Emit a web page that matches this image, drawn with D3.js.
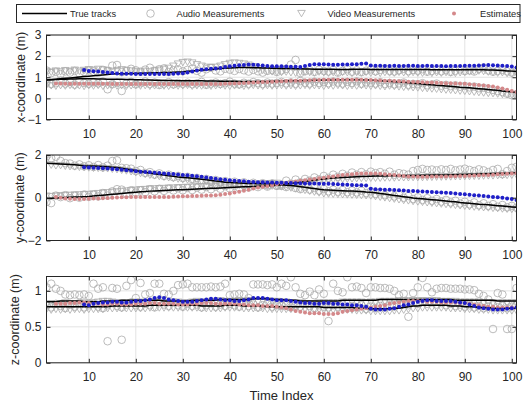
<!DOCTYPE html>
<html>
<head>
<meta charset="utf-8">
<script src="https://cdn.jsdelivr.net/npm/d3@7"></script>
<style>
  body { margin: 0; background: #fff; }
  text { font-family: "Liberation Sans", Arial, Helvetica, sans-serif; fill: #262626; }
</style>
</head>
<body>
<div class="chart"></div>
<script>
// Time index 1..101
var timeIndex = d3.range(1, 102);
var xTickValues = [10, 20, 30, 40, 50, 60, 70, 80, 90, 100];

// ---------- x-coordinate ----------
var xTrueA = [0.87,0.89,0.91,0.93,0.95,0.97,0.99,1.01,1.03,1.05,
  1.07,1.09,1.11,1.13,1.15,1.16,1.17,1.17,1.18,1.18,
  1.19,1.19,1.2,1.21,1.21,1.22,1.23,1.24,1.25,1.26,
  1.28,1.3,1.32,1.33,1.35,1.37,1.39,1.41,1.43,1.44,
  1.45,1.46,1.46,1.46,1.45,1.45,1.44,1.44,1.43,1.43,
  1.42,1.42,1.41,1.4,1.4,1.39,1.39,1.38,1.38,1.38,
  1.38,1.38,1.37,1.37,1.37,1.38,1.38,1.38,1.38,1.37,
  1.37,1.37,1.37,1.37,1.37,1.37,1.37,1.37,1.37,1.37,
  1.37,1.37,1.36,1.36,1.36,1.36,1.36,1.36,1.36,1.35,
  1.35,1.35,1.35,1.35,1.34,1.34,1.33,1.32,1.3,1.29,1.27];
var xTrueB = [0.87,0.88,0.89,0.9,0.91,0.92,0.92,0.93,0.93,0.93,
  0.93,0.92,0.92,0.91,0.91,0.9,0.9,0.89,0.89,0.88,
  0.88,0.87,0.87,0.86,0.86,0.85,0.85,0.85,0.84,0.84,
  0.84,0.83,0.83,0.83,0.82,0.82,0.82,0.81,0.81,0.81,
  0.81,0.8,0.8,0.8,0.8,0.8,0.8,0.8,0.81,0.81,
  0.82,0.82,0.83,0.83,0.84,0.85,0.85,0.86,0.86,0.87,
  0.87,0.87,0.88,0.88,0.88,0.88,0.88,0.88,0.87,0.87,
  0.85,0.84,0.82,0.81,0.79,0.77,0.76,0.74,0.72,0.7,
  0.68,0.66,0.64,0.62,0.61,0.59,0.57,0.55,0.53,0.52,
  0.5,0.48,0.46,0.44,0.42,0.4,0.38,0.35,0.33,0.31,0.28];
var xAudioA = [1.32,1.2,1.26,1.15,1.28,1.22,1.3,1.18,1.25,1.33,
  1.27,1.21,1.35,1.3,1.55,1.58,1.24,1.29,1.4,1.33,
  1.26,1.36,1.45,1.3,1.38,1.42,1.25,1.33,1.37,1.28,
  1.35,1.41,1.3,1.22,1.38,1.45,1.32,1.28,1.4,1.36,
  1.3,1.39,1.33,1.27,1.35,1.28,1.22,1.3,1.34,1.25,
  1.32,1.4,1.6,1.82,1.2,1.28,1.33,1.25,1.36,1.3,
  1.27,1.35,1.22,1.3,1.38,1.26,1.33,1.24,1.31,1.37,
  1.28,1.35,1.42,1.3,1.27,1.33,1.4,1.29,1.35,1.31,
  1.38,1.26,1.3,1.36,1.28,1.34,1.25,1.31,1.37,1.29,
  1.33,1.27,1.4,1.46,1.32,1.26,1.3,1.35,1.28,1.22,1.3];
var xAudioB = [0.75,0.68,0.72,0.85,0.7,0.78,0.65,0.82,0.73,0.69,
  0.76,0.71,0.8,0.43,0.67,0.74,0.35,0.7,0.78,0.66,
  0.72,0.8,0.68,0.75,0.63,0.7,0.77,0.66,0.73,0.69,
  0.74,0.67,0.71,0.78,0.64,0.7,0.75,0.68,0.72,0.79,
  0.7,0.66,0.74,0.69,0.77,0.72,0.68,0.75,0.7,0.73,
  0.78,0.71,0.76,0.69,0.82,0.74,0.7,0.79,0.73,0.77,
  0.72,0.8,0.75,0.7,0.78,0.73,0.81,0.69,0.76,0.74,
  0.7,0.77,0.68,0.73,0.66,0.71,0.75,0.64,0.69,0.67,
  0.72,0.62,0.66,0.7,0.6,0.64,0.58,0.62,0.55,0.59,
  0.52,0.56,0.48,0.5,0.45,0.4,0.35,0.3,0.22,0.15,0.2];
var xVideoA = [1.3,1.26,1.32,1.28,1.34,1.3,1.36,1.31,1.35,1.38,
  1.36,1.4,1.37,1.33,1.3,1.34,1.38,1.35,1.32,1.3,
  1.27,1.31,1.28,1.33,1.36,1.4,1.45,1.55,1.65,1.72,
  1.74,1.7,1.62,1.55,1.5,1.48,1.5,1.55,1.62,1.68,
  1.7,1.68,1.65,1.6,1.52,1.42,1.35,1.3,1.28,1.26,
  1.25,1.27,1.24,1.22,1.26,1.28,1.25,1.23,1.27,1.24,
  1.22,1.25,1.23,1.26,1.24,1.21,1.25,1.23,1.26,1.22,
  1.24,1.21,1.25,1.23,1.22,1.26,1.24,1.21,1.25,1.23,
  1.22,1.25,1.21,1.24,1.22,1.25,1.23,1.21,1.24,1.26,
  1.28,1.3,1.32,1.3,1.27,1.25,1.22,1.24,1.2,1.18,1.22];
var xVideoB = [0.65,0.62,0.6,0.63,0.61,0.64,0.6,0.62,0.59,0.63,
  0.61,0.64,0.6,0.62,0.65,0.61,0.63,0.6,0.62,0.64,
  0.61,0.63,0.6,0.62,0.64,0.61,0.6,0.63,0.61,0.62,
  0.64,0.6,0.62,0.61,0.63,0.6,0.62,0.64,0.61,0.6,
  0.62,0.63,0.6,0.61,0.64,0.62,0.6,0.63,0.61,0.62,
  0.64,0.61,0.63,0.6,0.62,0.64,0.61,0.63,0.62,0.6,
  0.63,0.61,0.64,0.62,0.6,0.63,0.61,0.64,0.62,0.6,
  0.62,0.6,0.58,0.61,0.59,0.57,0.55,0.56,0.53,0.52,
  0.5,0.49,0.47,0.46,0.44,0.42,0.41,0.39,0.37,0.36,
  0.34,0.32,0.3,0.28,0.26,0.25,0.23,0.21,0.2,0.18,0.17];
var xEstA = [null,null,null,null,null,null,null,null,1.34,1.3,
  1.28,1.27,1.25,1.23,1.2,1.18,1.17,1.16,1.16,1.15,
  1.15,1.15,1.15,1.15,1.15,1.15,1.15,1.16,1.18,1.19,
  1.22,1.27,1.32,1.36,1.38,1.4,1.42,1.44,1.48,1.52,
  1.55,1.57,1.58,1.6,1.59,1.58,1.56,1.53,1.52,1.52,
  1.52,1.51,1.5,1.5,1.48,1.53,1.58,1.61,1.62,1.61,
  1.6,1.59,1.59,1.6,1.6,1.61,1.62,1.64,1.65,1.56,
  1.54,1.54,1.53,1.53,1.54,1.53,1.53,1.54,1.54,1.53,
  1.53,1.54,1.53,1.53,1.53,1.52,1.53,1.53,1.53,1.54,
  1.54,1.55,1.56,1.57,1.58,1.57,1.56,1.55,1.53,1.51,1.46];
var xEstB = [null,null,0.7,0.7,0.69,0.69,0.69,0.69,0.69,0.69,
  0.69,0.69,0.69,0.69,0.68,0.68,0.68,0.68,0.68,0.68,
  0.68,0.68,0.68,0.68,0.68,0.68,0.68,0.68,0.68,0.68,
  0.68,0.68,0.68,0.68,0.68,0.68,0.68,0.68,0.69,0.7,
  0.71,0.72,0.73,0.74,0.75,0.76,0.77,0.78,0.79,0.8,
  0.81,0.82,0.83,0.84,0.84,0.85,0.86,0.87,0.87,0.88,
  0.88,0.88,0.88,0.88,0.88,0.88,0.88,0.88,0.87,0.87,
  0.86,0.85,0.84,0.83,0.82,0.81,0.8,0.79,0.78,0.77,
  0.76,0.75,0.75,0.74,0.73,0.72,0.72,0.71,0.7,0.69,
  0.67,0.65,0.63,0.61,0.59,0.56,0.52,0.47,0.41,0.35,0.3];

// ---------- y-coordinate ----------
var yTrueA = [1.61,1.6,1.59,1.58,1.57,1.55,1.54,1.52,1.5,1.49,
  1.48,1.47,1.46,1.45,1.43,1.41,1.38,1.35,1.31,1.27,
  1.23,1.19,1.15,1.12,1.09,1.06,1.03,1.0,0.97,0.95,
  0.93,0.91,0.89,0.86,0.84,0.81,0.78,0.76,0.73,0.71,
  0.7,0.69,0.68,0.67,0.67,0.66,0.65,0.64,0.64,0.63,
  0.61,0.59,0.57,0.55,0.52,0.49,0.46,0.43,0.4,0.37,
  0.36,0.35,0.34,0.33,0.32,0.31,0.3,0.29,0.27,0.26,
  0.23,0.2,0.17,0.14,0.11,0.08,0.05,0.02,-0.01,-0.03,
  -0.05,-0.07,-0.09,-0.11,-0.13,-0.15,-0.17,-0.19,-0.22,-0.24,
  -0.26,-0.28,-0.3,-0.31,-0.33,-0.35,-0.37,-0.39,-0.41,-0.43,-0.45];
var yTrueB = [-0.03,-0.02,-0.01,0,0.01,0.02,0.03,0.04,0.05,0.06,
  0.08,0.1,0.12,0.14,0.16,0.18,0.2,0.22,0.24,0.26,
  0.28,0.29,0.31,0.32,0.33,0.34,0.35,0.36,0.37,0.38,
  0.39,0.4,0.41,0.42,0.43,0.44,0.45,0.46,0.47,0.48,
  0.49,0.5,0.51,0.52,0.53,0.54,0.55,0.56,0.57,0.59,
  0.61,0.64,0.67,0.7,0.73,0.76,0.79,0.82,0.85,0.88,
  0.9,0.92,0.94,0.95,0.96,0.97,0.98,0.99,1.0,1.01,
  1.02,1.02,1.02,1.03,1.03,1.03,1.03,1.04,1.04,1.04,
  1.05,1.05,1.06,1.06,1.07,1.07,1.08,1.08,1.09,1.09,
  1.1,1.1,1.11,1.12,1.12,1.13,1.14,1.15,1.15,1.16,1.17];
var yAudioA = [1.95,1.85,1.92,1.72,1.62,1.6,1.5,1.56,1.47,1.52,
  1.44,1.53,1.42,1.5,1.72,1.75,1.4,1.38,1.36,1.25,
  1.3,1.16,1.2,1.08,1.14,1.02,1.08,0.96,1.02,0.92,
  0.98,0.87,0.93,0.82,0.88,0.77,0.83,0.72,0.78,0.68,
  0.75,0.66,0.72,0.63,0.7,0.6,0.68,0.58,0.66,0.56,
  0.62,0.5,0.58,0.45,0.4,0.52,0.38,0.46,0.33,0.41,
  0.3,0.38,0.28,0.36,0.26,0.34,0.25,0.33,0.22,0.3,
  0.18,0.26,0.12,0.2,0.06,0.14,0.0,0.08,-0.06,0.02,
  -0.1,-0.02,-0.14,-0.06,-0.18,-0.1,-0.22,-0.14,-0.27,-0.19,
  -0.31,-0.22,-0.35,-0.26,-0.38,-0.3,-0.42,-0.34,-0.45,-0.38,-0.47];
var yAudioB = [-0.2,-0.25,0.1,0.03,0.12,-0.02,0.1,0.0,0.15,0.04,
  0.15,0.06,0.22,0.1,0.3,0.4,0.38,0.2,0.35,0.24,
  0.35,0.26,0.4,0.3,0.42,0.32,0.43,0.34,0.44,0.35,
  0.46,0.36,0.47,0.38,0.5,0.4,0.52,0.42,0.54,0.44,
  0.56,0.46,0.58,0.48,0.6,0.5,0.62,0.52,0.66,0.56,
  0.55,0.8,0.66,0.85,0.72,0.88,0.8,0.95,0.86,1.02,
  0.93,1.08,0.98,1.12,1.03,1.18,1.08,1.2,1.1,1.22,
  1.15,1.2,1.12,1.22,1.08,1.15,1.12,1.08,1.25,1.3,
  1.35,1.3,1.32,1.28,1.33,1.3,1.35,1.28,1.32,1.36,
  1.3,1.25,1.33,1.28,1.2,1.3,1.35,1.1,1.25,1.4,1.45];
var yVideoA = [1.78,1.55,1.52,1.53,1.5,1.48,1.47,1.45,1.44,1.42,
  1.41,1.4,1.39,1.38,1.36,1.34,1.31,1.28,1.24,1.2,
  1.16,1.12,1.08,1.05,1.02,0.99,0.96,0.93,0.9,0.88,
  0.86,0.84,0.82,0.8,0.77,0.74,0.71,0.69,0.66,0.64,
  0.63,0.62,0.61,0.6,0.6,0.59,0.58,0.57,0.57,0.56,
  0.54,0.51,0.48,0.45,0.41,0.37,0.33,0.29,0.25,0.21,
  0.2,0.19,0.18,0.17,0.16,0.15,0.14,0.13,0.12,0.11,
  0.08,0.05,0.02,-0.01,-0.04,-0.07,-0.1,-0.12,-0.15,-0.17,
  -0.19,-0.21,-0.23,-0.25,-0.27,-0.29,-0.31,-0.33,-0.35,-0.37,
  -0.39,-0.41,-0.42,-0.44,-0.45,-0.47,-0.48,-0.5,-0.51,-0.52,-0.53];
var yVideoB = [0.1,0.08,0.1,0.12,0.13,0.14,0.15,0.16,0.17,0.18,
  0.2,0.22,0.24,0.26,0.28,0.3,0.32,0.34,0.36,0.38,
  0.4,0.41,0.43,0.44,0.45,0.46,0.47,0.48,0.49,0.5,
  0.51,0.52,0.53,0.54,0.55,0.56,0.57,0.58,0.59,0.6,
  0.61,0.62,0.63,0.64,0.65,0.66,0.67,0.68,0.69,0.7,
  0.62,0.63,0.65,0.67,0.7,0.72,0.75,0.78,0.8,0.83,
  0.85,0.87,0.88,0.89,0.9,0.91,0.92,0.93,0.93,0.94,
  0.94,0.94,0.95,0.95,0.95,0.96,0.96,0.96,0.97,0.97,
  0.97,0.98,0.98,0.99,0.99,1.0,1.0,1.01,1.01,1.02,
  1.02,1.03,1.03,1.04,1.05,1.05,1.06,1.07,1.07,1.08,1.09];
var yEstA = [null,null,null,null,null,null,null,null,1.43,1.42,
  1.4,1.39,1.38,1.37,1.35,1.33,1.31,1.29,1.27,1.24,
  1.22,1.2,1.19,1.17,1.16,1.14,1.12,1.11,1.09,1.07,
  1.05,1.03,1.01,0.98,0.95,0.92,0.89,0.86,0.84,0.82,
  0.8,0.78,0.77,0.75,0.74,0.73,0.72,0.71,0.71,0.7,
  0.7,0.69,0.69,0.68,0.68,0.67,0.67,0.67,0.66,0.66,
  0.65,0.64,0.63,0.62,0.61,0.6,0.59,0.58,0.57,0.42,
  0.4,0.39,0.38,0.37,0.36,0.35,0.34,0.32,0.31,0.3,
  0.29,0.28,0.27,0.26,0.25,0.23,0.22,0.2,0.18,0.16,
  0.14,0.12,0.1,0.08,0.06,0.04,0.02,0.0,-0.03,-0.06,-0.1];
var yEstB = [null,null,0.03,0.0,-0.03,-0.05,-0.06,-0.06,-0.06,-0.05,
  -0.04,-0.03,-0.02,-0.01,0.0,0.01,0.02,0.02,0.03,0.03,
  0.03,0.03,0.03,0.03,0.03,0.03,0.04,0.05,0.06,0.07,
  0.07,0.08,0.08,0.09,0.1,0.1,0.12,0.14,0.17,0.2,
  0.24,0.28,0.33,0.38,0.43,0.48,0.52,0.55,0.59,0.63,
  0.67,0.7,0.73,0.76,0.79,0.82,0.85,0.88,0.91,0.94,
  0.97,1.0,1.03,1.06,1.08,1.1,1.12,1.13,1.14,1.14,
  1.13,1.12,1.1,1.08,1.06,1.04,1.02,1.0,0.99,0.98,
  0.98,0.98,0.99,0.99,1.0,1.0,1.01,1.01,1.02,1.02,
  1.03,1.04,1.05,1.06,1.07,1.08,1.1,1.11,1.12,1.14,1.15];

// ---------- z-coordinate ----------
var zTrueA = [0.85,0.85,0.85,0.86,0.86,0.86,0.86,0.86,0.85,0.85,
  0.85,0.85,0.86,0.86,0.86,0.86,0.87,0.87,0.87,0.87,
  0.87,0.87,0.87,0.87,0.87,0.86,0.86,0.86,0.86,0.86,
  0.86,0.87,0.87,0.87,0.87,0.87,0.87,0.88,0.88,0.88,
  0.88,0.88,0.88,0.88,0.89,0.89,0.89,0.89,0.88,0.88,
  0.88,0.87,0.87,0.87,0.86,0.86,0.86,0.86,0.86,0.86,
  0.86,0.86,0.86,0.87,0.87,0.87,0.87,0.87,0.87,0.87,
  0.87,0.88,0.88,0.88,0.88,0.88,0.88,0.88,0.88,0.88,
  0.88,0.88,0.88,0.88,0.88,0.88,0.88,0.87,0.87,0.87,
  0.87,0.87,0.87,0.87,0.87,0.87,0.86,0.86,0.86,0.86,0.86];
var zTrueB = [0.78,0.78,0.78,0.78,0.78,0.78,0.78,0.78,0.78,0.78,
  0.78,0.78,0.78,0.78,0.79,0.79,0.79,0.79,0.79,0.79,
  0.79,0.79,0.8,0.8,0.8,0.8,0.8,0.8,0.8,0.8,
  0.8,0.8,0.8,0.79,0.79,0.79,0.79,0.79,0.8,0.8,
  0.8,0.8,0.79,0.79,0.79,0.79,0.79,0.78,0.78,0.78,
  0.78,0.78,0.78,0.78,0.78,0.78,0.78,0.78,0.78,0.77,
  0.77,0.77,0.77,0.77,0.77,0.77,0.76,0.76,0.76,0.75,
  0.75,0.75,0.75,0.75,0.76,0.76,0.77,0.78,0.79,0.79,
  0.8,0.8,0.8,0.8,0.8,0.8,0.79,0.79,0.79,0.78,
  0.78,0.78,0.77,0.77,0.77,0.76,0.76,0.76,0.76,0.76,0.76];
var zAudioA = [1.05,1.1,1.03,1.0,0.95,0.94,0.95,0.94,0.95,0.93,
  1.1,1.03,1.05,0.3,1.04,1.03,0.32,1.07,1.15,0.9,
  1.11,0.95,0.97,1.1,1.1,0.96,0.95,1.0,1.08,1.09,
  1.1,1.05,1.05,1.05,1.05,1.06,1.05,1.06,1.1,0.94,
  0.95,0.96,0.95,0.9,1.09,1.09,1.09,1.08,1.09,1.05,
  1.1,1.07,1.19,1.05,0.96,0.94,0.99,0.94,1.02,0.96,
  0.58,1.1,1.0,0.98,1.19,1.05,1.06,1.04,0.97,1.05,
  1.05,1.04,1.04,1.03,1.0,0.94,0.96,0.64,0.97,1.05,
  1.18,1.05,0.98,1.03,1.04,1.04,1.03,1.03,1.03,1.02,
  1.02,1.01,0.96,0.93,0.88,0.47,0.97,0.95,0.47,0.47,1.04];
var zAudioB = [0.8,0.77,0.82,0.79,0.76,0.81,0.78,0.83,0.77,0.8,
  0.82,0.78,0.76,0.8,0.83,0.79,0.77,0.81,0.84,0.8,
  0.78,0.82,0.8,0.77,0.83,0.81,0.79,0.84,0.8,0.78,
  0.82,0.79,0.81,0.77,0.8,0.83,0.78,0.81,0.79,0.82,
  0.8,0.78,0.83,0.79,0.81,0.77,0.8,0.82,0.78,0.8,
  0.79,0.81,0.77,0.8,0.78,0.82,0.79,0.76,0.8,0.78,
  0.77,0.8,0.78,0.81,0.76,0.79,0.77,0.8,0.75,0.78,
  0.76,0.79,0.77,0.8,0.78,0.81,0.83,0.8,0.84,0.82,
  0.85,0.82,0.84,0.81,0.83,0.8,0.82,0.79,0.81,0.78,
  0.8,0.77,0.79,0.76,0.78,0.8,0.77,0.79,0.76,0.78,0.8];
var zVideoA = [0.82,0.83,0.82,0.83,0.84,0.83,0.82,0.83,0.84,0.83,
  0.84,0.85,0.86,0.86,0.85,0.84,0.84,0.83,0.84,0.85,
  0.85,0.84,0.85,0.86,0.85,0.84,0.84,0.85,0.85,0.84,
  0.84,0.85,0.86,0.85,0.85,0.86,0.86,0.87,0.86,0.86,
  0.86,0.87,0.86,0.87,0.87,0.86,0.87,0.87,0.86,0.86,
  0.85,0.85,0.84,0.84,0.84,0.83,0.83,0.83,0.84,0.84,
  0.84,0.84,0.84,0.85,0.85,0.85,0.85,0.85,0.84,0.85,
  0.85,0.86,0.86,0.86,0.86,0.87,0.87,0.87,0.87,0.87,
  0.87,0.87,0.87,0.87,0.86,0.86,0.86,0.86,0.85,0.85,
  0.85,0.85,0.85,0.84,0.84,0.84,0.84,0.84,0.84,0.84,0.84];
var zVideoB = [0.75,0.74,0.75,0.74,0.75,0.74,0.75,0.75,0.74,0.75,
  0.75,0.75,0.75,0.76,0.76,0.76,0.76,0.76,0.76,0.76,
  0.76,0.76,0.77,0.77,0.77,0.77,0.77,0.77,0.77,0.77,
  0.77,0.77,0.77,0.76,0.76,0.76,0.76,0.76,0.77,0.77,
  0.77,0.77,0.76,0.76,0.76,0.76,0.76,0.75,0.75,0.75,
  0.75,0.75,0.75,0.75,0.75,0.75,0.75,0.75,0.75,0.74,
  0.74,0.74,0.74,0.74,0.74,0.74,0.73,0.73,0.73,0.72,
  0.72,0.72,0.72,0.72,0.73,0.73,0.74,0.75,0.76,0.76,
  0.77,0.77,0.77,0.77,0.77,0.77,0.76,0.76,0.76,0.75,
  0.75,0.75,0.74,0.74,0.74,0.73,0.73,0.73,0.73,0.73,0.73];
var zEstA = [null,null,null,null,null,null,null,null,0.81,0.8,
  0.82,0.83,0.84,0.84,0.85,0.85,0.84,0.84,0.85,0.86,
  0.86,0.87,0.88,0.9,0.91,0.9,0.88,0.87,0.86,0.85,
  0.85,0.85,0.86,0.87,0.88,0.89,0.89,0.88,0.87,0.87,
  0.86,0.86,0.87,0.88,0.9,0.9,0.9,0.89,0.88,0.87,
  0.87,0.87,0.86,0.85,0.84,0.83,0.83,0.82,0.82,0.83,
  0.83,0.82,0.82,0.81,0.81,0.8,0.8,0.79,0.78,0.75,
  0.74,0.74,0.74,0.75,0.76,0.78,0.8,0.81,0.83,0.85,
  0.86,0.87,0.87,0.86,0.86,0.86,0.86,0.85,0.84,0.83,
  0.81,0.79,0.77,0.76,0.75,0.74,0.74,0.74,0.75,0.76,0.77];
var zEstB = [null,null,0.82,0.82,0.82,0.83,0.83,0.84,0.84,0.83,
  0.82,0.82,0.81,0.81,0.82,0.82,0.81,0.81,0.81,0.82,
  0.82,0.82,0.83,0.83,0.82,0.82,0.82,0.82,0.81,0.81,
  0.81,0.82,0.82,0.83,0.83,0.83,0.82,0.82,0.82,0.82,
  0.82,0.81,0.81,0.8,0.8,0.8,0.79,0.79,0.79,0.78,
  0.77,0.76,0.74,0.72,0.71,0.7,0.69,0.69,0.69,0.68,
  0.68,0.68,0.69,0.71,0.72,0.73,0.74,0.75,0.76,0.77,
  0.78,0.79,0.8,0.82,0.83,0.84,0.85,0.86,0.86,0.86,
  0.86,0.85,0.85,0.85,0.84,0.84,0.84,0.84,0.83,0.83,
  0.82,0.81,0.8,0.79,0.78,0.78,0.77,0.77,0.77,0.77,0.77];

// ---------- layout ----------
var svgWidth = 523;
var svgHeight = 406;
var margin = { left: 46.5, right: 6.5 };
var width = svgWidth - margin.left - margin.right;

var axisColor = "#262626";
var markerGray = "#ababab";
var estBlue = "#1f1fc8";
var estPink = "#d4888a";

var panels = [
  { top: 35, height: 84.5, domain: [-1, 3], yTicks: [-1, 0, 1, 2, 3], label: "x-coordinate (m)", labelX: -21.5,
    trueA: xTrueA, trueB: xTrueB, audioA: xAudioA, audioB: xAudioB, videoA: xVideoA, videoB: xVideoB, estA: xEstA, estB: xEstB },
  { top: 155, height: 85.5, domain: [-2, 2], yTicks: [-2, 0, 2], label: "y-coordinate (m)", labelX: -22.5,
    trueA: yTrueA, trueB: yTrueB, audioA: yAudioA, audioB: yAudioB, videoA: yVideoA, videoB: yVideoB, estA: yEstA, estB: yEstB },
  { top: 276.5, height: 86.3, domain: [0, 1.2], yTicks: [0, 0.5, 1], label: "z-coordinate (m)", labelX: -28,
    trueA: zTrueA, trueB: zTrueB, audioA: zAudioA, audioB: zAudioB, videoA: zVideoA, videoB: zVideoB, estA: zEstA, estB: zEstB }
];

var svg = d3.select(".chart")
  .append("svg")
  .attr("width", svgWidth)
  .attr("height", svgHeight);

var xScale = d3.scaleLinear().domain([1, 101]).range([0, width]);

// down-pointing triangle marker
var triPath = "M-3.8,-2.6L3.8,-2.6L0,3.8Z";

panels.forEach(function(p, pi) {
  var g = svg.append("g").attr("transform", `translate(${margin.left}, ${p.top})`);
  var yScale = d3.scaleLinear().domain(p.domain).range([p.height, 0]);

  // grid
  g.append("g").selectAll("line.gx").data(xTickValues).enter().append("line")
    .attr("x1", d => xScale(d)).attr("x2", d => xScale(d))
    .attr("y1", 0).attr("y2", p.height)
    .attr("stroke", "#e3e3e3").attr("stroke-width", 1);
  g.append("g").selectAll("line.gy").data(p.yTicks).enter().append("line")
    .attr("x1", 0).attr("x2", width)
    .attr("y1", d => yScale(d)).attr("y2", d => yScale(d))
    .attr("stroke", "#e3e3e3").attr("stroke-width", 1);

  // clip
  var clipId = "clip" + pi;
  g.append("clipPath").attr("id", clipId).append("rect")
    .attr("x", 0).attr("y", 0).attr("width", width).attr("height", p.height);
  var plot = g.append("g").attr("clip-path", `url(#${clipId})`);

  // audio measurements (open circles)
  [p.audioA, p.audioB].forEach(function(series) {
    plot.append("g").selectAll("circle").data(series).enter().append("circle")
      .attr("cx", (d, i) => xScale(timeIndex[i]))
      .attr("cy", d => yScale(d))
      .attr("r", 3.8)
      .attr("fill", "none")
      .attr("stroke", markerGray)
      .attr("stroke-width", 0.8);
  });

  // video measurements (open down triangles)
  [p.videoA, p.videoB].forEach(function(series) {
    plot.append("g").selectAll("path").data(series).enter().append("path")
      .attr("d", triPath)
      .attr("transform", (d, i) => `translate(${xScale(timeIndex[i])}, ${yScale(d)})`)
      .attr("fill", "none")
      .attr("stroke", markerGray)
      .attr("stroke-width", 0.8);
  });

  // true tracks
  var line = d3.line()
    .x((d, i) => xScale(timeIndex[i]))
    .y(d => yScale(d));
  [p.trueA, p.trueB].forEach(function(series) {
    plot.append("path").datum(series)
      .attr("d", line)
      .attr("fill", "none")
      .attr("stroke", "#000")
      .attr("stroke-width", 1.5);
  });

  // estimates
  [[p.estB, estPink], [p.estA, estBlue]].forEach(function(s) {
    var pts = s[0].map((v, i) => ({ t: timeIndex[i], v: v })).filter(d => d.v !== null);
    plot.append("g").selectAll("circle").data(pts).enter().append("circle")
      .attr("cx", d => xScale(d.t))
      .attr("cy", d => yScale(d.v))
      .attr("r", 2)
      .attr("fill", s[1]);
  });

  // axes
  var fmt = d3.format("");
  var bottomAxis = d3.axisBottom(xScale).tickValues(xTickValues).tickSizeInner(-4).tickSizeOuter(0).tickPadding(10);
  var topAxis = d3.axisTop(xScale).tickValues(xTickValues).tickSizeInner(-4).tickSizeOuter(0).tickFormat("");
  var leftAxis = d3.axisLeft(yScale).tickValues(p.yTicks).tickSizeInner(-4).tickSizeOuter(0).tickPadding(5).tickFormat(fmt);
  var rightAxis = d3.axisRight(yScale).tickValues(p.yTicks).tickSizeInner(-4).tickSizeOuter(0).tickFormat("");

  [
    g.append("g").attr("transform", `translate(0, ${p.height})`).call(bottomAxis),
    g.append("g").call(topAxis),
    g.append("g").call(leftAxis),
    g.append("g").attr("transform", `translate(${width}, 0)`).call(rightAxis)
  ].forEach(function(a) {
    a.select(".domain").remove();
    a.selectAll("line").attr("stroke", axisColor);
    a.selectAll("text").attr("font-size", 12).attr("fill", axisColor)
      .style("font-family", "'Liberation Sans', Arial, sans-serif");
  });

  // box
  g.append("rect")
    .attr("x", 0).attr("y", 0).attr("width", width).attr("height", p.height)
    .attr("fill", "none").attr("stroke", axisColor).attr("stroke-width", 1);

  // y label
  g.append("text")
    .attr("transform", `translate(${p.labelX}, ${p.height / 2}) rotate(-90)`)
    .attr("text-anchor", "middle")
    .attr("font-size", 12.5)
    .text(p.label);
});

// x axis title
svg.append("text")
  .attr("x", margin.left + width / 2)
  .attr("y", 400)
  .attr("text-anchor", "middle")
  .attr("font-size", 13)
  .text("Time Index");

// legend
var legend = svg.append("g");
legend.append("rect")
  .attr("x", 16.5).attr("y", 4.5).attr("width", 503.5).attr("height", 18)
  .attr("fill", "#fff").attr("stroke", axisColor).attr("stroke-width", 1);
var legY = 13.5;
legend.append("line").attr("x1", 22).attr("x2", 67).attr("y1", legY).attr("y2", legY)
  .attr("stroke", "#000").attr("stroke-width", 1.5);
legend.append("circle").attr("cx", 150.5).attr("cy", legY).attr("r", 3.8)
  .attr("fill", "none").attr("stroke", markerGray).attr("stroke-width", 0.8);
legend.append("path").attr("d", triPath).attr("transform", `translate(301.5, ${legY - 0.5})`)
  .attr("fill", "none").attr("stroke", markerGray).attr("stroke-width", 0.8);
legend.append("circle").attr("cx", 454).attr("cy", legY).attr("r", 2).attr("fill", estPink);
var legendLabels = [["True tracks", 70], ["Audio Measurements", 176.5], ["Video Measurements", 327.5], ["Estimates", 480]];
legend.selectAll("text.leg").data(legendLabels).enter().append("text")
  .attr("x", d => d[1]).attr("y", legY + 3.5)
  .attr("font-size", 9.3)
  .text(d => d[0]);
</script>
</body>
</html>
